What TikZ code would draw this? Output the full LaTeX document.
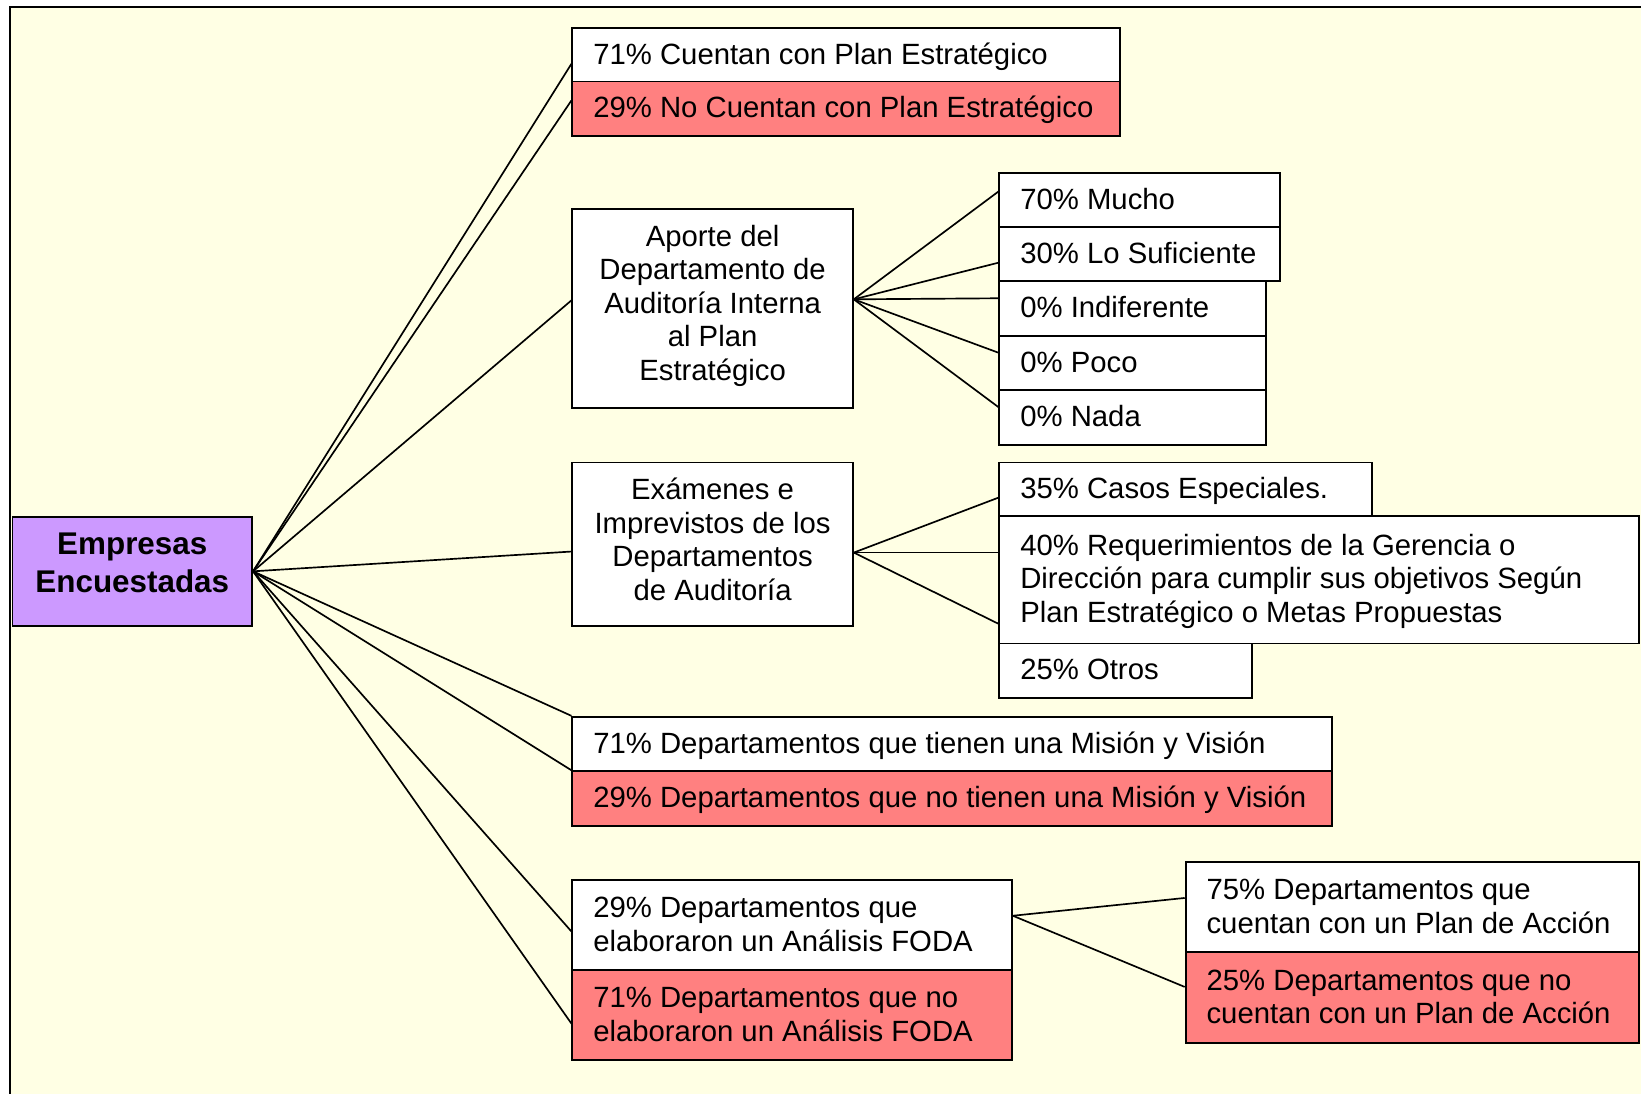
\documentclass[tikz,border=0pt]{standalone}
\usepackage{fontspec}
\setmainfont{Liberation Sans}
\usetikzlibrary{calc}
\definecolor{bgyellow}{RGB}{255,255,228}
\definecolor{boxred}{RGB}{255,128,128}
\definecolor{boxpurple}{RGB}{204,153,255}
\newcommand{\lefttext}[2]{\raisebox{-1.2pt}[\height][\depth]{\makebox[#1][l]{\begin{tabular}{@{}l@{}}#2\end{tabular}}}}
\newcommand{\centtext}[2]{\raisebox{#1}[\height][\depth]{\begin{tabular}{@{}c@{}}#2\end{tabular}}}
\begin{document}
\begin{tikzpicture}[x=0.5pt,y=-0.5pt,
  bx/.style={draw=black, line width=0.9pt, fill=white, anchor=north west,
    inner ysep=0pt, font=\fontsize{14}{16}\selectfont},
  lbx/.style={bx, inner xsep=10pt},
  cbx/.style={bx, inner xsep=2pt},
  hot/.style={fill=boxred},
  link/.style={draw=black, line width=0.8pt}]
\useasboundingbox (0,0) rectangle (1568,1045);
\clip (0,0) rectangle (1568,1045);
\fill[white] (0,0) rectangle (1568,1045);
\draw[line width=1pt, fill=bgyellow] (9.6,6.7) rectangle (1600,1100);

% root
\node[bx, fill=boxpurple, inner xsep=2pt,
  minimum width=114.5pt, minimum height=52pt,
  font=\fontsize{15}{18}\selectfont\bfseries] (emp) at (11,493) {\centtext{2.5pt}{Empresas\\Encuestadas}};

% plan estrategico
\node[lbx, minimum width=261.5pt, minimum height=25.5pt] (p1) at (546,26)
  {\lefttext{241.5pt}{71\% Cuentan con Plan Estratégico}};
\node[lbx, hot, minimum width=261.5pt, minimum height=26pt] (p2) at (546,77)
  {\lefttext{241.5pt}{29\% No Cuentan con Plan Estratégico}};

% aporte
\node[cbx, minimum width=134pt, minimum height=95pt] (ap) at (546,199)
  {\centtext{1pt}{Aporte del\\Departamento de\\Auditoría Interna\\al Plan\\Estratégico}};
\node[lbx, minimum width=134pt, minimum height=26pt] (a1) at (954,164)
  {\lefttext{114pt}{70\% Mucho}};
\node[lbx, minimum width=134pt, minimum height=26pt] (a2) at (954,216)
  {\lefttext{114pt}{30\% Lo Suficiente}};
\node[lbx, minimum width=127.5pt, minimum height=26pt] (a3) at (954,268)
  {\lefttext{107.5pt}{0\% Indiferente}};
\node[lbx, minimum width=127.5pt, minimum height=26pt] (a4) at (954,320)
  {\lefttext{107.5pt}{0\% Poco}};
\node[lbx, minimum width=127.5pt, minimum height=26pt] (a5) at (954,372)
  {\lefttext{107.5pt}{0\% Nada}};

% examenes
\node[cbx, minimum width=134pt, minimum height=78pt] (ex) at (546,441)
  {\centtext{0.5pt}{Exámenes e\\Imprevistos de los\\Departamentos\\de Auditoría}};
\node[lbx, minimum width=178pt, minimum height=25.5pt] (e1) at (954,441)
  {\lefttext{158pt}{35\% Casos Especiales.}};
\node[lbx, minimum width=305.5pt, minimum height=61pt] (e2) at (954,492)
  {\lefttext{285.5pt}{40\% Requerimientos de la Gerencia o\\Dirección para cumplir sus objetivos Según\\Plan Estratégico o Metas Propuestas}};
\node[lbx, minimum width=120.5pt, minimum height=26pt] (e3) at (954,614)
  {\lefttext{100.5pt}{25\% Otros}};

% mision y vision
\node[lbx, minimum width=363pt, minimum height=26pt] (m1) at (546,684)
  {\lefttext{343pt}{71\% Departamentos que tienen una Misión y Visión}};
\node[lbx, hot, minimum width=363pt, minimum height=26pt] (m2) at (546,736)
  {\lefttext{343pt}{29\% Departamentos que no tienen una Misión y Visión}};

% FODA
\node[lbx, minimum width=210pt, minimum height=43pt] (f1) at (546,840)
  {\lefttext{190pt}{29\% Departamentos que\\elaboraron un Análisis FODA}};
\node[lbx, hot, minimum width=210pt, minimum height=43pt] (f2) at (546,926)
  {\lefttext{190pt}{71\% Departamentos que no\\elaboraron un Análisis FODA}};

% plan de accion
\node[lbx, minimum width=216.5pt, minimum height=43pt] (c1) at (1132,823)
  {\lefttext{196.5pt}{75\% Departamentos que\\cuentan con un Plan de Acción}};
\node[lbx, hot, minimum width=216.5pt, minimum height=43.5pt] (c2) at (1132,909)
  {\lefttext{196.5pt}{25\% Departamentos que no\\cuentan con un Plan de Acción}};

% connectors from root
\draw[link] (emp.east) -- ($(p1.north west)+(0,35)$);
\draw[link] (emp.east) -- ($(p2.north west)+(0,19)$);
\draw[link] (emp.east) -- ($(ap.north west)+(0,88)$);
\draw[link] (emp.east) -- ($(ex.north west)+(0,86)$);
\draw[link] (emp.east) -- (m1.north west);
\draw[link] (emp.east) -- (m2.north west);
\draw[link] (emp.east) -- ($(f1.north west)+(0,50)$);
\draw[link] (emp.east) -- ($(f2.north west)+(0,52)$);

% connectors from aporte
\coordinate (aps) at ($(ap.north east)+(0,87)$);
\draw[link] (aps) -- ($(a1.north west)+(0,19)$);
\draw[link] (aps) -- ($(a2.north west)+(0,35)$);
\draw[link] (aps) -- ($(a3.north west)+(0,17)$);
\draw[link] (aps) -- ($(a4.north west)+(0,17)$);
\draw[link] (aps) -- ($(a5.north west)+(0,17)$);

% connectors from examenes
\coordinate (exs) at ($(ex.north east)+(0,87)$);
\draw[link] (exs) -- ($(e1.north west)+(0,34.5)$);
\draw[link] (exs) -- ($(e2.north west)+(0,36)$);
\draw[link] (exs) -- ($(e2.north west)+(0,104)$);

% connectors from FODA
\coordinate (fs) at ($(f1.north east)+(0,35)$);
\draw[link] (fs) -- ($(c1.north west)+(0,35)$);
\draw[link] (fs) -- ($(c2.north west)+(0,34)$);
\end{tikzpicture}
\end{document}
